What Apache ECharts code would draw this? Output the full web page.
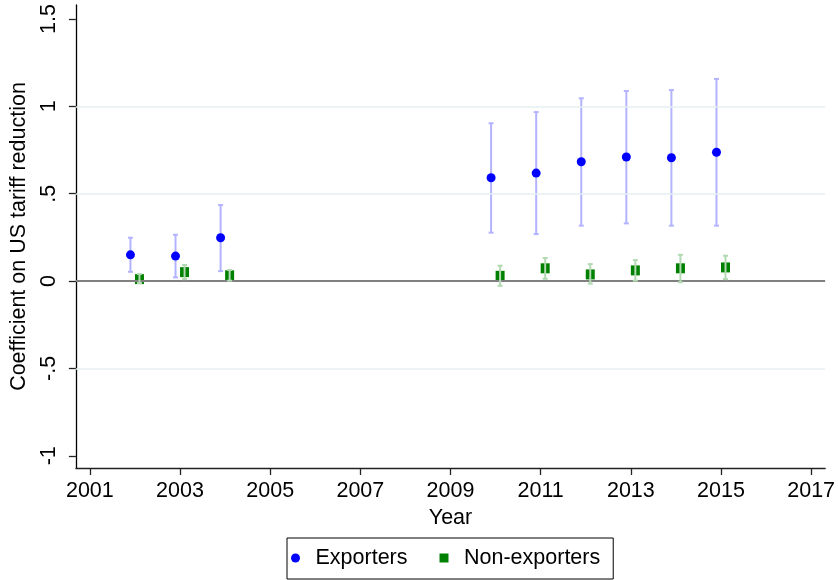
<!DOCTYPE html>
<html>
<head>
<meta charset="utf-8">
<script src="https://cdn.jsdelivr.net/npm/echarts@6/dist/echarts.min.js"></script>
<style>
html,body{margin:0;padding:0;background:#fff;}
#chart{width:838px;height:580px;}
</style>
</head>
<body>
<div id="chart"></div>
<script>
// ---- data ----
const years = [2002, 2003, 2004, 2010, 2011, 2012, 2013, 2014, 2015];
const expCoef = [0.150, 0.143, 0.248, 0.591, 0.618, 0.683, 0.710, 0.706, 0.737];
const expLo   = [0.053, 0.021, 0.057, 0.277, 0.269, 0.317, 0.330, 0.317, 0.317];
const expHi   = [0.248, 0.265, 0.435, 0.903, 0.967, 1.046, 1.088, 1.093, 1.157];
const nonCoef = [0.011, 0.051, 0.033, 0.030, 0.073, 0.038, 0.061, 0.073, 0.078];
const nonLo   = [-0.011, 0.011, 0.002, -0.027, 0.013, -0.015, 0.002, -0.007, 0.011];
const nonHi   = [0.040, 0.092, 0.063, 0.088, 0.132, 0.097, 0.120, 0.150, 0.145];
const xTicks = [2001, 2003, 2005, 2007, 2009, 2011, 2013, 2015, 2017];
const yTicks = [-1, -0.5, 0, 0.5, 1, 1.5];
const yTickLabels = ['-1', '-.5', '0', '.5', '1', '1.5'];
const gridValues = [-0.5, 0.5, 1];
const seriesNames = ['Exporters', 'Non-exporters'];
const offset = 0.1;

const FONT = 'Liberation Sans, Arial, sans-serif';
const chart = echarts.init(document.getElementById('chart'), null, {renderer: 'canvas'});

const expPts = years.map((y, i) => [y - offset, expCoef[i]]);
const nonPts = years.map((y, i) => [y + offset, nonCoef[i]]);
const expCI = years.map((y, i) => [y - offset, expLo[i], expHi[i]]);
const nonCI = years.map((y, i) => [y + offset, nonLo[i], nonHi[i]]);

function ciRender(color) {
  return function (params, api) {
    const x = api.value(0);
    const lo = api.coord([x, api.value(1)]);
    const hi = api.coord([x, api.value(2)]);
    const cw = 2.5;
    const style = {stroke: color, lineWidth: 2};
    return {
      type: 'group',
      children: [
        {type: 'line', shape: {x1: lo[0], y1: lo[1], x2: hi[0], y2: hi[1]}, style: style},
        {type: 'line', shape: {x1: lo[0] - cw, y1: lo[1], x2: lo[0] + cw, y2: lo[1]}, style: style},
        {type: 'line', shape: {x1: hi[0] - cw, y1: hi[1], x2: hi[0] + cw, y2: hi[1]}, style: style}
      ]
    };
  };
}

const option = {
  animation: false,
  backgroundColor: '#ffffff',
  textStyle: {fontFamily: FONT},
  grid: {left: 72, right: 11, top: 5, bottom: 112, containLabel: false},
  xAxis: {
    type: 'value',
    min: 2000.69,
    max: 2017.31,
    name: 'Year',
    nameLocation: 'middle',
    nameGap: 38,
    nameTextStyle: {fontSize: 21.5, color: '#000', fontFamily: FONT},
    axisLine: {show: true, onZero: false, lineStyle: {color: '#222', width: 1.3}},
    axisTick: {show: true, length: 7, lineStyle: {color: '#222', width: 1.3}, customValues: xTicks},
    axisLabel: {show: true, fontSize: 21.5, color: '#000', margin: 12, fontFamily: FONT, customValues: xTicks,
      formatter: v => String(Math.round(v))},
    splitLine: {show: false}
  },
  yAxis: {
    type: 'value',
    min: -1.07,
    max: 1.58,
    name: 'Coefficient on US tariff reduction',
    nameLocation: 'middle',
    nameGap: 41,
    nameTextStyle: {fontSize: 21.5, color: '#000', fontFamily: FONT},
    axisLine: {show: true, onZero: false, lineStyle: {color: '#000', width: 1.3}},
    axisTick: {show: true, length: 7, lineStyle: {color: '#222', width: 1.3}, customValues: yTicks},
    axisLabel: {show: true, rotate: 90, fontSize: 21.5, color: '#000', margin: 16, fontFamily: FONT, customValues: yTicks,
      formatter: function (v) {
        const idx = yTicks.findIndex(t => Math.abs(t - v) < 1e-6);
        return idx >= 0 ? yTickLabels[idx] : '';
      }},
    splitLine: {show: false}
  },
  legend: {
    left: 287,
    bottom: 1,
    orient: 'horizontal',
    data: [
      {name: seriesNames[0], icon: 'circle'},
      {name: seriesNames[1], icon: 'path://M0,0L10,0L10,10L0,10Z'}
    ],
    itemWidth: 14,
    itemHeight: 9,
    itemGap: 32,
    padding: [9, 13, 10, 4],
    borderColor: '#000',
    borderWidth: 1,
    borderRadius: 0,
    textStyle: {fontSize: 21.5, color: '#000', fontFamily: FONT, padding: [0, 0, 0, 8]},
    selectedMode: false
  },
  series: [
    {
      name: 'grid',
      type: 'line',
      data: [],
      silent: true,
      markLine: {
        silent: true,
        symbol: 'none',
        label: {show: false},
        animation: false,
        data: gridValues.map(v => ({yAxis: v, lineStyle: {color: '#e6eff1', width: 1.5, type: 'solid'}}))
          .concat([{yAxis: 0, lineStyle: {color: '#808080', width: 2, type: 'solid'}}])
      },
      z: 1
    },
    {
      name: 'expCI',
      type: 'custom',
      renderItem: ciRender('#b3b3ff'),
      data: expCI,
      encode: {x: 0, y: [1, 2]},
      silent: true,
      z: 2
    },
    {
      name: seriesNames[0],
      type: 'scatter',
      data: expPts,
      symbol: 'circle',
      symbolSize: 9,
      itemStyle: {color: '#0000ff', opacity: 1},
      z: 3
    },
    {
      name: seriesNames[1],
      type: 'scatter',
      data: nonPts,
      symbol: 'rect',
      symbolSize: [9, 10],
      itemStyle: {color: '#008000', opacity: 1},
      z: 4
    },
    {
      name: 'nonCI',
      type: 'custom',
      renderItem: ciRender('#b3d9b3'),
      data: nonCI,
      encode: {x: 0, y: [1, 2]},
      silent: true,
      z: 5
    }
  ]
};
chart.setOption(option);
</script>
</body>
</html>
